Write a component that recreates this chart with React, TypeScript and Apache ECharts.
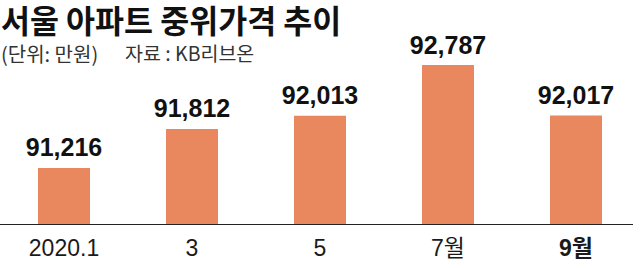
import React, { useEffect, useRef } from "react";
import * as echarts from "echarts";

const categories = ["2020.1", "3", "5", "7월", "9월"];
const values = [91216, 91812, 92013, 92787, 92017];
const title = "서울 아파트 중위가격 추이";
const unitNote = "(단위: 만원)";
const sourceNote = "자료 : KB리브온";

const NUM = '"Liberation Sans", "Noto Sans CJK KR", sans-serif';
const CJK = '"Noto Sans CJK KR", sans-serif';

export default function App() {
  const ref = useRef<HTMLDivElement>(null);
  useEffect(() => {
    if (!ref.current) return;
    const chart = echarts.init(ref.current, null, { renderer: "svg" });
    chart.setOption({
      animation: false,
      backgroundColor: "#ffffff",
      grid: { left: -9, width: 665, top: 0, height: 224 },
      xAxis: {
        type: "category",
        data: categories,
        axisLine: { show: false },
        axisTick: { show: false },
        axisLabel: {
          margin: 12,
          fontFamily: NUM,
          fontSize: 23,
          color: "#1a1a1a",
          formatter: (v: string) => (v === "9월" ? "{b|" + v + "}" : v),
          rich: {
            b: { fontFamily: NUM, fontSize: 23, fontWeight: "bold", color: "#1a1a1a" },
          },
        },
      },
      yAxis: {
        type: "value",
        min: 90360,
        max: 93780,
        show: false,
        splitLine: { show: false },
      },
      series: [
        {
          type: "bar",
          data: values,
          barWidth: 52,
          itemStyle: { color: "#E9885E" },
          label: {
            show: true,
            position: "top",
            distance: 8,
            fontFamily: NUM,
            fontSize: 25,
            fontWeight: "bold",
            color: "#111111",
            formatter: (p: any) => Number(p.value).toLocaleString("en-US"),
          },
        },
      ],
      graphic: [
        {
          type: "line",
          shape: { x1: 0, y1: 224.5, x2: 633, y2: 224.5 },
          style: { stroke: "#222222", lineWidth: 1 },
        },
        {
          type: "text",
          left: 1,
          top: 3,
          style: {
            text: title,
            fontFamily: CJK,
            fontSize: 31.5,
            fontWeight: "bold",
            fill: "#111111",
          },
        },
        {
          type: "text",
          left: 1,
          top: 43,
          style: {
            text: unitNote,
            fontFamily: CJK,
            fontSize: 20,
            fill: "#333333",
          },
        },
        {
          type: "text",
          left: 125,
          top: 43,
          style: {
            text: sourceNote,
            fontFamily: CJK,
            fontSize: 19.5,
            fill: "#333333",
          },
        },
      ],
    });
    return () => chart.dispose();
  }, []);
  return (
    <div
      ref={ref}
      style={{ position: "fixed", left: 0, top: 0, width: 640, height: 268 }}
    />
  );
}
